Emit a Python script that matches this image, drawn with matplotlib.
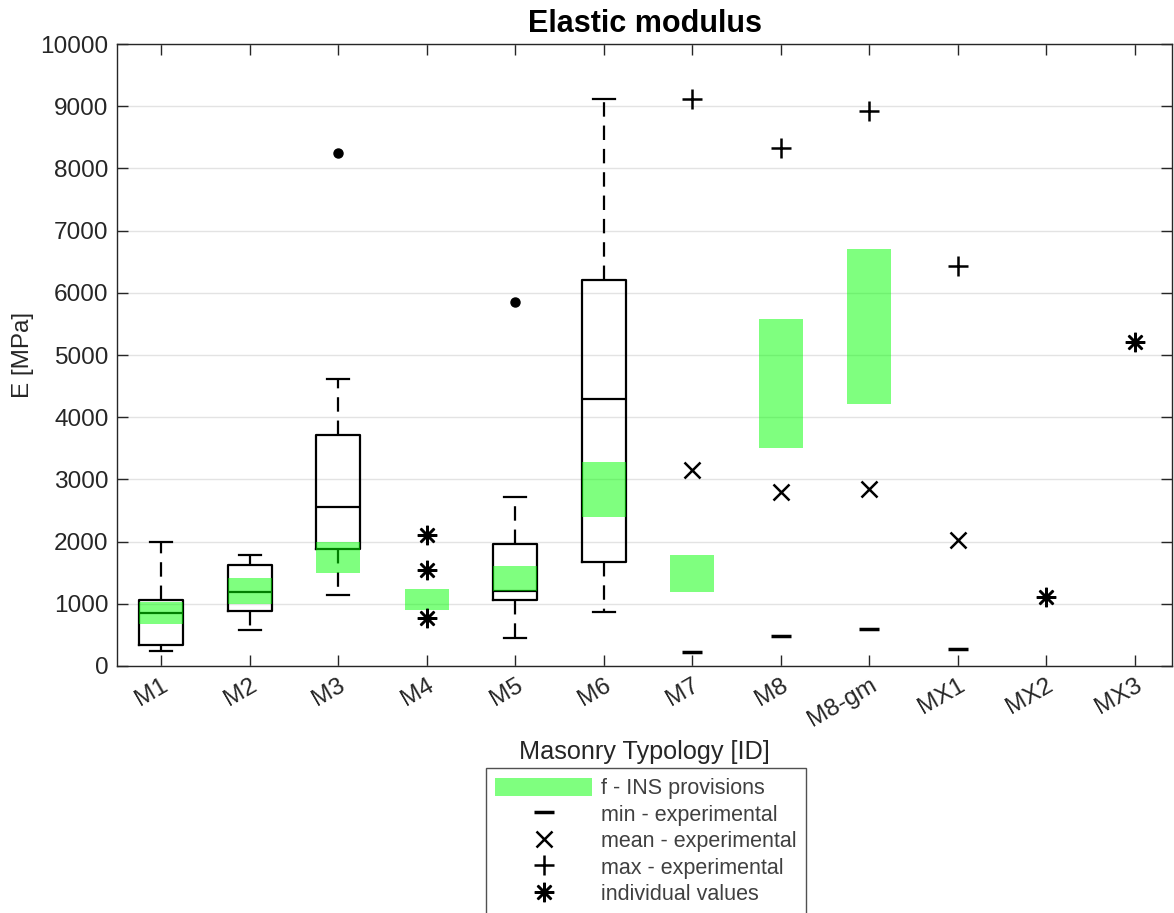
import matplotlib
matplotlib.use("Agg")
import matplotlib.pyplot as plt
from matplotlib.patches import Patch
from matplotlib.lines import Line2D

plt.rcParams['font.family'] = ['Liberation Sans', 'DejaVu Sans']

# typology labels
typologies = ['M1', 'M2', 'M3', 'M4', 'M5', 'M6', 'M7', 'M8', 'M8-gm', 'MX1', 'MX2', 'MX3']

# box plot statistics, typologies with many tests
box_ids = ['M1', 'M2', 'M3', 'M5', 'M6']
box_whislo = [240, 580, 1140, 455, 866]
box_q1 = [345, 882, 1880, 1064, 1678]
box_med = [858, 1190, 2557, 1204, 4294]
box_q3 = [1055, 1622, 3716, 1968, 6204]
box_whishi = [2000, 1785, 4616, 2718, 9110]
box_fliers = [[], [], [8241], [5847], []]

# INS provisions ranges
ins_ids = ['M1', 'M2', 'M3', 'M4', 'M5', 'M6', 'M7', 'M8', 'M8-gm']
ins_low = [680, 1000, 1500, 893, 1204, 2402, 1197, 3503, 4217]
ins_high = [1030, 1413, 1990, 1230, 1600, 3284, 1790, 5586, 6707]

# min / mean / max experimental (few tests)
exp_ids = ['M7', 'M8', 'M8-gm', 'MX1']
exp_min = [223, 478, 592, 268]
exp_mean = [3153, 2796, 2847, 2019]
exp_max = [9121, 8331, 8917, 6433]

# individual values
ind_ids = ['M4', 'M4', 'M4', 'MX2', 'MX3']
ind_vals = [2107, 1539, 770, 1115, 5217]

pos = {t: i + 1 for i, t in enumerate(typologies)}
txt = '#262626'

fig = plt.figure(figsize=(11.74, 9.13), dpi=100)
ax = fig.add_axes([117 / 1174, 1 - 666 / 913, (1172 - 117) / 1174, (666 - 44) / 913])

stats = []
for i, t in enumerate(box_ids):
    stats.append(dict(whislo=box_whislo[i], q1=box_q1[i], med=box_med[i], q3=box_q3[i],
                      whishi=box_whishi[i], fliers=box_fliers[i]))
ax.bxp(stats, positions=[pos[t] for t in box_ids], widths=0.5, capwidths=0.25,
       boxprops=dict(color='black', lw=1.6),
       medianprops=dict(color='black', lw=1.6),
       whiskerprops=dict(color='black', lw=1.6, linestyle=(0, (6.5, 4))),
       capprops=dict(color='black', lw=1.6),
       flierprops=dict(marker='o', markerfacecolor='black', markeredgecolor='black', markersize=6.5),
       zorder=2)

ax.bar([pos[t] for t in ins_ids], [h - l for h, l in zip(ins_high, ins_low)], bottom=ins_low,
       width=0.5, color='#00ff00', alpha=0.5, lw=0, zorder=3)

ex = [pos[t] for t in exp_ids]
ax.plot(ex, exp_min, ls='none', marker='_', ms=15, mew=2.5, color='black', zorder=4)
ax.plot(ex, exp_mean, ls='none', marker='x', ms=11, mew=1.8, color='black', zorder=4)
ax.plot(ex, exp_max, ls='none', marker='+', ms=15, mew=1.8, color='black', zorder=4)
ax.plot([pos[t] for t in ind_ids], ind_vals, ls='none', marker=(8, 2, 0), ms=14, mew=1.8,
        color='black', zorder=4)

ax.set_xlim(0.5, 12.42)
ax.set_ylim(0, 10000)
ax.set_yticks(range(0, 10001, 1000))
ax.set_xticks(range(1, 13))
ax.set_xticklabels(typologies, rotation=30, ha='right', va='top', rotation_mode='anchor')
ax.tick_params(direction='in', length=8, width=1, colors=txt, labelsize=17.6,
               top=True, right=True, pad=6)
ax.grid(axis='y', color='#e3e3e3', lw=1)
ax.set_axisbelow(True)
for s in ax.spines.values():
    s.set_color(txt)
    s.set_linewidth(1)

ax.set_title('Elastic modulus', fontsize=22, fontweight='bold', color='black', pad=9)
ax.set_ylabel('E [MPa]', fontsize=17.5, color=txt, labelpad=5)
ax.set_xlabel('Masonry Typology [ID]', fontsize=18.2, color=txt, labelpad=6)

handles = [
    Patch(facecolor='#00ff00', alpha=0.5, lw=0),
    Line2D([], [], ls='none', marker='_', ms=15, mew=2.5, color='black'),
    Line2D([], [], ls='none', marker='x', ms=11, mew=1.8, color='black'),
    Line2D([], [], ls='none', marker='+', ms=15, mew=1.8, color='black'),
    Line2D([], [], ls='none', marker=(8, 2, 0), ms=14, mew=1.8, color='black'),
]
labels = ['f - INS provisions', 'min - experimental', 'mean - experimental',
          'max - experimental', 'individual values']
leg = fig.legend(handles, labels, loc='upper center', bbox_to_anchor=(646 / 1174, 1 - 768 / 913),
                 fontsize=15.5, frameon=True, fancybox=False, edgecolor=txt,
                 handlelength=4.5, handleheight=0.95, handletextpad=0.4,
                 labelspacing=0.22, borderpad=0.45, borderaxespad=0)
leg.get_frame().set_linewidth(1)
for t in leg.get_texts():
    t.set_color('#404040')

fig.savefig('out.png', dpi=100)
